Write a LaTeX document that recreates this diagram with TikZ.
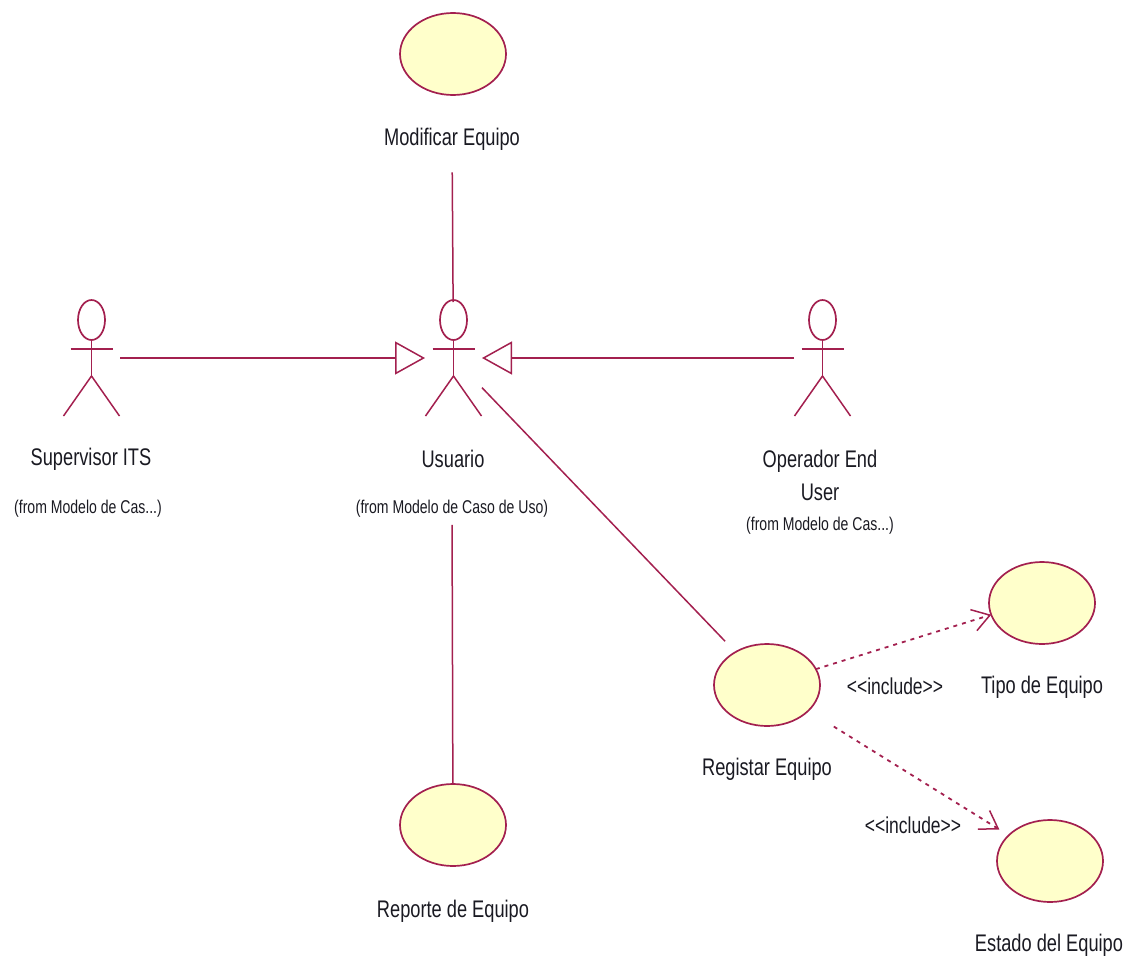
\documentclass[tikz,border=0pt]{standalone}
\usepackage{fontspec}
\setmainfont[FakeStretch=0.76]{Liberation Sans}
\usetikzlibrary{shapes.geometric,arrows.meta}
\definecolor{umlline}{HTML}{A3204F}
\definecolor{umlfill}{HTML}{FFFFCB}
\definecolor{umltext}{HTML}{1A1A22}
\tikzset{
  x=1pt,y=-1pt,
  usecase/.style={ellipse,draw=umlline,fill=umlfill,line width=1.7pt,minimum width=106pt,minimum height=82pt,inner sep=0pt,outer sep=0pt},
  actorbox/.style={rectangle,minimum width=57pt,minimum height=116pt,inner sep=0pt,outer sep=0pt},
  actorhead/.style={ellipse,draw=umlline,line width=1.7pt,minimum width=27pt,minimum height=40pt,inner sep=0pt,outer sep=0pt},
  actorline/.style={draw=umlline,line width=1.5pt},
  label/.style={text=umltext,font=\fontsize{24}{27}\selectfont,inner sep=0pt,align=center},
  small/.style={text=umltext,font=\fontsize{18.5}{21}\selectfont,inner sep=0pt},
  inclabel/.style={text=umltext,font=\fontsize{23}{26}\selectfont,inner sep=0pt},
  assoc/.style={draw=umlline,line width=1.5pt},
  gener/.style={draw=umlline,line width=1.5pt,-{Triangle[open,length=30pt,width=33pt,fill=white]}},
  incl/.style={draw=umlline,line width=1.8pt,dash pattern=on 4pt off 5pt,-{Straight Barb[length=17pt,width=22pt,line width=1.5pt]}}
}
\newcommand{\umlactor}[2]{%
  \node[actorbox] (#1) at (#2,358) {};
  \node[actorhead] (#1head) at (#2,320) {};
  \coordinate (#1hip) at (#2,376);
  \draw[actorline] (#1head.south) -- (#1hip);
  \draw[actorline] (#2-21,349) -- (#2+21,349);
  \draw[actorline] (#2-28,416) -- (#1hip) -- (#2+28,416);
}
\begin{document}
\begin{tikzpicture}
\useasboundingbox (0,0) rectangle (1129,958);
\umlactor{supervisor}{91.5}
\umlactor{usuario}{453.5}
\umlactor{operador}{822.5}
\node[usecase] (modificar) at (453,54) {};
\node[usecase] (reporte) at (453,825) {};
\node[usecase] (registar) at (767,685) {};
\node[usecase] (tipo) at (1042,603) {};
\node[usecase] (estado) at (1050,861) {};
\node[label] (lmodificar) at (452,139) {Modificar Equipo};
\node[label] (lsupervisor) at (91,459) {Supervisor ITS};
\node[small] (fsupervisor) at (88,509) {(from Modelo de Cas...)};
\node[label] (lusuario) at (453,459) {Usuario};
\node[small] (fusuario) at (452,509) {(from Modelo de Caso de Uso)};
\node[label] (loperador) at (820,475) {Operador End\\[6pt]User};
\node[small] (foperador) at (820,526) {(from Modelo de Cas...)};
\node[label] (lregistar) at (767,769) {Registar Equipo};
\node[label] (ltipo) at (1042,687) {Tipo de Equipo};
\node[label] (lestado) at (1049,945) {Estado del Equipo};
\node[label] (lreporte) at (453,911) {Reporte de Equipo};
\node[inclabel] (inca) at (895,686) {<{}<include>{}>};
\node[inclabel] (incb) at (913,825) {<{}<include>{}>};
\draw[assoc,shorten <=22pt,shorten >=-2pt] (lmodificar) -- (usuario);
\draw[gener] (supervisor) -- (usuario);
\draw[gener] (operador) -- (usuario);
\draw[assoc,shorten >=15pt] (usuario) -- (registar);
\draw[assoc,shorten <=7pt] (fusuario) -- (reporte);
\draw[incl] (registar.18) -- (tipo.193);
\draw[incl,shorten <=30pt,shorten >=11pt] (registar) -- (estado);
\end{tikzpicture}
\end{document}
